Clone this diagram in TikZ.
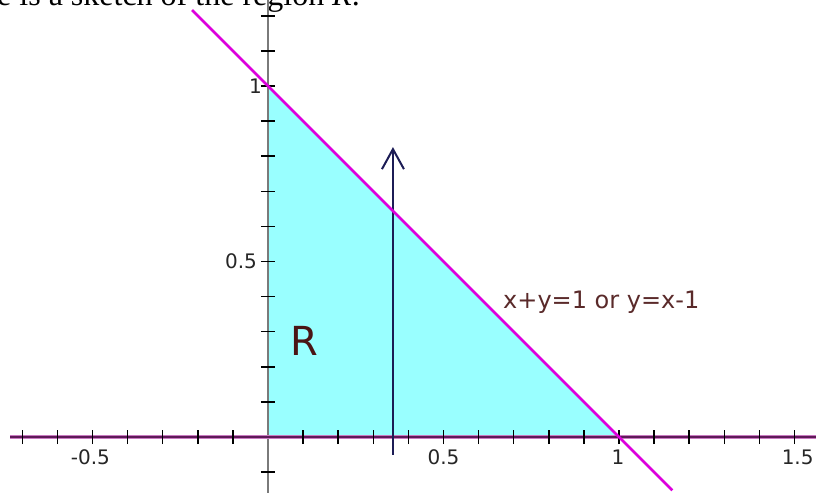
\documentclass[tikz,border=0pt]{standalone}
\usepackage{fontspec}
\usetikzlibrary{arrows.meta}
\newfontfamily\labfont{DejaVu Sans}
\newfontfamily\txtfont{Liberation Serif}
\definecolor{regcyan}{HTML}{99FFFF}
\definecolor{lnmag}{HTML}{DD00DD}
\definecolor{xaxcol}{HTML}{5E1A58}
\definecolor{xaxhalo}{HTML}{C878C0}
\definecolor{yaxcol}{HTML}{7A7A7A}
\definecolor{arrcol}{HTML}{1C1C55}
\definecolor{labcol}{HTML}{262626}
\definecolor{eqcol}{HTML}{5A2A2A}
\definecolor{rcol}{HTML}{4A1515}
\begin{document}
\begin{tikzpicture}[x=351pt,y=351pt,
  tickmark/.style={black,line width=1.5pt},
  axlabel/.style={text=labcol,font=\labfont\fontsize{20}{24}\selectfont,inner sep=0pt},
  xaxishalo/.style={xaxhalo,line width=3.4pt},
  xaxis/.style={xaxcol,line width=1.8pt},
  yaxis/.style={yaxcol,line width=2pt},
  boundary/.style={lnmag,line width=2.6pt},
  vecarrow/.style={arrcol,line width=2pt,-{Straight Barb[length=20pt,width=22pt,line width=2pt]}}]
\useasboundingbox (-0.76353,-0.15954) rectangle (1.57265,1.24501);
% cut-off caption line
\node[anchor=base west,inner sep=0pt,font=\txtfont\fontsize{32}{36}\selectfont] (cap) at (-0.772,1.229) {e is a sketch of the region \textit{R}.};
% region
\coordinate (O) at (0,0);
\coordinate (A) at (1,0);
\coordinate (B) at (0,1);
\fill[regcyan] (O) -- (A) -- (B) -- cycle;
% axes
\coordinate (xl) at (-0.735,0);
\coordinate (xr) at (1.560,0);
\coordinate (yb) at (0,-0.16);
\coordinate (yt) at (0,1.25);
\draw[yaxis] (yb) -- (yt);
\draw[xaxishalo] (xl) -- (xr);
\draw[xaxis] (xl) -- (xr);
\foreach \t in {-0.7,-0.6,...,-0.05,0.1,0.2,...,1.55}
  \draw[tickmark] (\t,-0.02) -- (\t,0.02);
\foreach \t in {-0.1,0.1,0.2,...,1.25}
  \draw[tickmark] (-0.02,\t) -- (0.02,\t);
% labels
\node[axlabel,anchor=east] (ly1) at (-0.017,1.0) {1};
\node[axlabel,anchor=east] (ly05) at (-0.031,0.5) {0.5};
\node[axlabel] (lxm05) at (-0.506,-0.057) {-0.5};
\node[axlabel] (lx05) at (0.50,-0.057) {0.5};
\node[axlabel] (lx1) at (0.997,-0.057) {1};
\node[axlabel] (lx15) at (1.509,-0.057) {1.5};
% vertical arrow
\coordinate (vb) at (0.356,-0.051);
\coordinate (vt) at (0.356,0.826);
\draw[vecarrow] (vb) -- (vt);
% boundary line
\coordinate (lt) at (-0.2165,1.2165);
\coordinate (lb) at (1.152,-0.152);
\draw[boundary] (lt) -- (lb);
\node[anchor=base west,inner sep=0pt,text=eqcol,font=\labfont\fontsize{24}{28}\selectfont] (eq) at (0.6695,0.3647) {x+y=1 or y=x-1};
\node[anchor=base west,inner sep=0pt,text=rcol,font=\labfont\fontsize{40}{44}\selectfont] (R) at (0.0627,0.2336) {R};
\end{tikzpicture}
\end{document}
